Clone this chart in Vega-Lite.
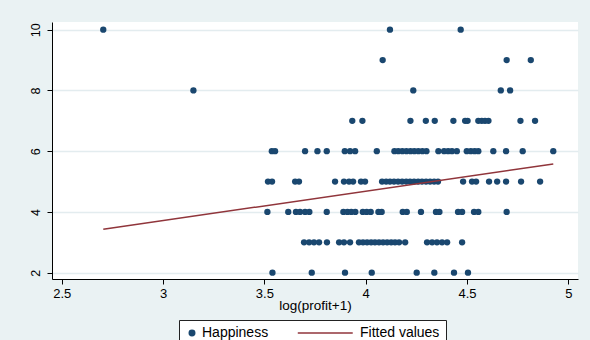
{
  "$schema": "https://vega.github.io/schema/vega-lite/v6.json",
  "width": 526,
  "height": 257,
  "autosize": {"type": "none"},
  "padding": {"left": 52, "top": 22, "right": 12, "bottom": 61},
  "background": "#eaf2f3",
  "config": {
    "font": "Liberation Sans",
    "view": {"fill": "white", "stroke": null}
  },
  "datasets": {
    "points": [
      {"lp": 3.540, "hap": 2, "series": "Happiness"}, {"lp": 3.734, "hap": 2, "series": "Happiness"}, {"lp": 3.898, "hap": 2, "series": "Happiness"}, {"lp": 4.030, "hap": 2, "series": "Happiness"},
      {"lp": 4.252, "hap": 2, "series": "Happiness"}, {"lp": 4.339, "hap": 2, "series": "Happiness"}, {"lp": 4.436, "hap": 2, "series": "Happiness"}, {"lp": 4.505, "hap": 2, "series": "Happiness"},
      {"lp": 3.696, "hap": 3, "series": "Happiness"}, {"lp": 3.721, "hap": 3, "series": "Happiness"}, {"lp": 3.745, "hap": 3, "series": "Happiness"}, {"lp": 3.770, "hap": 3, "series": "Happiness"},
      {"lp": 3.809, "hap": 3, "series": "Happiness"}, {"lp": 3.869, "hap": 3, "series": "Happiness"}, {"lp": 3.893, "hap": 3, "series": "Happiness"}, {"lp": 3.923, "hap": 3, "series": "Happiness"},
      {"lp": 3.967, "hap": 3, "series": "Happiness"}, {"lp": 3.987, "hap": 3, "series": "Happiness"}, {"lp": 4.007, "hap": 3, "series": "Happiness"}, {"lp": 4.027, "hap": 3, "series": "Happiness"},
      {"lp": 4.046, "hap": 3, "series": "Happiness"}, {"lp": 4.066, "hap": 3, "series": "Happiness"}, {"lp": 4.086, "hap": 3, "series": "Happiness"}, {"lp": 4.106, "hap": 3, "series": "Happiness"},
      {"lp": 4.126, "hap": 3, "series": "Happiness"}, {"lp": 4.145, "hap": 3, "series": "Happiness"}, {"lp": 4.165, "hap": 3, "series": "Happiness"}, {"lp": 4.195, "hap": 3, "series": "Happiness"},
      {"lp": 4.303, "hap": 3, "series": "Happiness"}, {"lp": 4.328, "hap": 3, "series": "Happiness"}, {"lp": 4.352, "hap": 3, "series": "Happiness"}, {"lp": 4.377, "hap": 3, "series": "Happiness"},
      {"lp": 4.402, "hap": 3, "series": "Happiness"}, {"lp": 4.476, "hap": 3, "series": "Happiness"},
      {"lp": 3.515, "hap": 4, "series": "Happiness"}, {"lp": 3.618, "hap": 4, "series": "Happiness"}, {"lp": 3.656, "hap": 4, "series": "Happiness"}, {"lp": 3.676, "hap": 4, "series": "Happiness"},
      {"lp": 3.701, "hap": 4, "series": "Happiness"}, {"lp": 3.722, "hap": 4, "series": "Happiness"}, {"lp": 3.808, "hap": 4, "series": "Happiness"}, {"lp": 3.890, "hap": 4, "series": "Happiness"},
      {"lp": 3.910, "hap": 4, "series": "Happiness"}, {"lp": 3.929, "hap": 4, "series": "Happiness"}, {"lp": 3.949, "hap": 4, "series": "Happiness"}, {"lp": 3.986, "hap": 4, "series": "Happiness"},
      {"lp": 4.005, "hap": 4, "series": "Happiness"}, {"lp": 4.025, "hap": 4, "series": "Happiness"}, {"lp": 4.063, "hap": 4, "series": "Happiness"}, {"lp": 4.079, "hap": 4, "series": "Happiness"},
      {"lp": 4.183, "hap": 4, "series": "Happiness"}, {"lp": 4.203, "hap": 4, "series": "Happiness"}, {"lp": 4.273, "hap": 4, "series": "Happiness"}, {"lp": 4.347, "hap": 4, "series": "Happiness"},
      {"lp": 4.364, "hap": 4, "series": "Happiness"}, {"lp": 4.456, "hap": 4, "series": "Happiness"}, {"lp": 4.476, "hap": 4, "series": "Happiness"}, {"lp": 4.535, "hap": 4, "series": "Happiness"},
      {"lp": 4.556, "hap": 4, "series": "Happiness"}, {"lp": 4.696, "hap": 4, "series": "Happiness"},
      {"lp": 3.518, "hap": 5, "series": "Happiness"}, {"lp": 3.538, "hap": 5, "series": "Happiness"}, {"lp": 3.652, "hap": 5, "series": "Happiness"}, {"lp": 3.671, "hap": 5, "series": "Happiness"},
      {"lp": 3.849, "hap": 5, "series": "Happiness"}, {"lp": 3.893, "hap": 5, "series": "Happiness"}, {"lp": 3.918, "hap": 5, "series": "Happiness"}, {"lp": 3.938, "hap": 5, "series": "Happiness"},
      {"lp": 3.977, "hap": 5, "series": "Happiness"}, {"lp": 3.997, "hap": 5, "series": "Happiness"}, {"lp": 4.081, "hap": 5, "series": "Happiness"}, {"lp": 4.101, "hap": 5, "series": "Happiness"},
      {"lp": 4.120, "hap": 5, "series": "Happiness"}, {"lp": 4.140, "hap": 5, "series": "Happiness"}, {"lp": 4.160, "hap": 5, "series": "Happiness"}, {"lp": 4.180, "hap": 5, "series": "Happiness"},
      {"lp": 4.200, "hap": 5, "series": "Happiness"}, {"lp": 4.219, "hap": 5, "series": "Happiness"}, {"lp": 4.239, "hap": 5, "series": "Happiness"}, {"lp": 4.259, "hap": 5, "series": "Happiness"},
      {"lp": 4.278, "hap": 5, "series": "Happiness"}, {"lp": 4.298, "hap": 5, "series": "Happiness"}, {"lp": 4.318, "hap": 5, "series": "Happiness"}, {"lp": 4.338, "hap": 5, "series": "Happiness"},
      {"lp": 4.357, "hap": 5, "series": "Happiness"}, {"lp": 4.481, "hap": 5, "series": "Happiness"}, {"lp": 4.525, "hap": 5, "series": "Happiness"}, {"lp": 4.545, "hap": 5, "series": "Happiness"},
      {"lp": 4.609, "hap": 5, "series": "Happiness"}, {"lp": 4.649, "hap": 5, "series": "Happiness"}, {"lp": 4.693, "hap": 5, "series": "Happiness"}, {"lp": 4.767, "hap": 5, "series": "Happiness"},
      {"lp": 4.861, "hap": 5, "series": "Happiness"},
      {"lp": 3.537, "hap": 6, "series": "Happiness"}, {"lp": 3.553, "hap": 6, "series": "Happiness"}, {"lp": 3.701, "hap": 6, "series": "Happiness"}, {"lp": 3.762, "hap": 6, "series": "Happiness"},
      {"lp": 3.808, "hap": 6, "series": "Happiness"}, {"lp": 3.897, "hap": 6, "series": "Happiness"}, {"lp": 3.923, "hap": 6, "series": "Happiness"}, {"lp": 3.948, "hap": 6, "series": "Happiness"},
      {"lp": 4.055, "hap": 6, "series": "Happiness"}, {"lp": 4.142, "hap": 6, "series": "Happiness"}, {"lp": 4.161, "hap": 6, "series": "Happiness"}, {"lp": 4.181, "hap": 6, "series": "Happiness"},
      {"lp": 4.201, "hap": 6, "series": "Happiness"}, {"lp": 4.221, "hap": 6, "series": "Happiness"}, {"lp": 4.240, "hap": 6, "series": "Happiness"}, {"lp": 4.260, "hap": 6, "series": "Happiness"},
      {"lp": 4.280, "hap": 6, "series": "Happiness"}, {"lp": 4.300, "hap": 6, "series": "Happiness"}, {"lp": 4.359, "hap": 6, "series": "Happiness"}, {"lp": 4.387, "hap": 6, "series": "Happiness"},
      {"lp": 4.407, "hap": 6, "series": "Happiness"}, {"lp": 4.426, "hap": 6, "series": "Happiness"}, {"lp": 4.450, "hap": 6, "series": "Happiness"}, {"lp": 4.499, "hap": 6, "series": "Happiness"},
      {"lp": 4.519, "hap": 6, "series": "Happiness"}, {"lp": 4.538, "hap": 6, "series": "Happiness"}, {"lp": 4.556, "hap": 6, "series": "Happiness"}, {"lp": 4.630, "hap": 6, "series": "Happiness"},
      {"lp": 4.693, "hap": 6, "series": "Happiness"}, {"lp": 4.775, "hap": 6, "series": "Happiness"}, {"lp": 4.926, "hap": 6, "series": "Happiness"},
      {"lp": 3.934, "hap": 7, "series": "Happiness"}, {"lp": 3.984, "hap": 7, "series": "Happiness"}, {"lp": 4.221, "hap": 7, "series": "Happiness"}, {"lp": 4.297, "hap": 7, "series": "Happiness"},
      {"lp": 4.341, "hap": 7, "series": "Happiness"}, {"lp": 4.433, "hap": 7, "series": "Happiness"}, {"lp": 4.491, "hap": 7, "series": "Happiness"}, {"lp": 4.503, "hap": 7, "series": "Happiness"},
      {"lp": 4.556, "hap": 7, "series": "Happiness"}, {"lp": 4.573, "hap": 7, "series": "Happiness"}, {"lp": 4.589, "hap": 7, "series": "Happiness"}, {"lp": 4.606, "hap": 7, "series": "Happiness"},
      {"lp": 4.764, "hap": 7, "series": "Happiness"}, {"lp": 4.836, "hap": 7, "series": "Happiness"},
      {"lp": 3.150, "hap": 8, "series": "Happiness"}, {"lp": 4.235, "hap": 8, "series": "Happiness"}, {"lp": 4.667, "hap": 8, "series": "Happiness"}, {"lp": 4.713, "hap": 8, "series": "Happiness"},
      {"lp": 4.084, "hap": 9, "series": "Happiness"}, {"lp": 4.696, "hap": 9, "series": "Happiness"}, {"lp": 4.815, "hap": 9, "series": "Happiness"},
      {"lp": 2.705, "hap": 10, "series": "Happiness"}, {"lp": 4.120, "hap": 10, "series": "Happiness"}, {"lp": 4.469, "hap": 10, "series": "Happiness"}
    ],
    "fit": [
      {"lp": 2.705, "hap": 3.43, "series": "Fitted values"},
      {"lp": 4.926, "hap": 5.58, "series": "Fitted values"}
    ]
  },
  "layer": [
    {
      "data": {"name": "points"},
      "mark": {"type": "point", "filled": true, "opacity": 1, "size": 40},
      "encoding": {
        "x": {
          "field": "lp", "type": "quantitative",
          "scale": {"domain": [2.452, 5.048], "nice": false, "zero": false},
          "axis": {
            "values": [2.5, 3, 3.5, 4, 4.5, 5], "format": "~g", "grid": false,
            "tickSize": 5, "tickColor": "black", "domainColor": "black",
            "labelFontSize": 13, "labelColor": "black", "labelPadding": 3, "labelFlush": false,
            "title": "log(profit+1)", "titleFontSize": 13.5, "titleFontWeight": "normal",
            "titleColor": "black", "titlePadding": -2
          }
        },
        "y": {
          "field": "hap", "type": "quantitative",
          "scale": {"domain": [1.793, 10.253], "nice": false, "zero": false},
          "axis": {
            "values": [2, 4, 6, 8, 10], "grid": true, "gridColor": "#e3ecef", "gridWidth": 1.5,
            "tickSize": 5, "tickColor": "black", "domainColor": "black",
            "labelAngle": 270, "labelAlign": "center", "labelBaseline": "alphabetic",
            "labelPadding": 8, "labelFontSize": 12.5, "labelColor": "black", "labelFlush": false,
            "title": null
          }
        },
        "color": {
          "field": "series", "type": "nominal",
          "scale": {"domain": ["Happiness", "Fitted values"], "range": ["#1a476f", "#90353b"]},
          "legend": {
            "orient": "none", "legendX": 127, "legendY": 298, "direction": "horizontal",
            "title": null, "fillColor": "white", "strokeColor": "#222", "padding": 6,
            "symbolSize": 30, "labelFontSize": 14, "labelColor": "black", "labelOffset": 3, "columnPadding": 25,
            "encode": {
              "symbols": {"update": {"stroke": {"scale": "color", "field": "value"}, "strokeWidth": {"value": 1.5}}}
            }
          }
        },
        "shape": {
          "field": "series", "type": "nominal",
          "scale": {"domain": ["Happiness", "Fitted values"], "range": ["circle", "M-19.07,0H1"]},
          "legend": {
            "orient": "none", "legendX": 127, "legendY": 298, "direction": "horizontal",
            "title": null, "fillColor": "white", "strokeColor": "#222", "padding": 6,
            "symbolSize": 30, "labelFontSize": 14, "labelColor": "black", "labelOffset": 3, "columnPadding": 25,
            "encode": {
              "symbols": {"update": {"stroke": {"scale": "color", "field": "value"}, "strokeWidth": {"value": 1.5}}}
            }
          }
        }
      }
    },
    {
      "data": {"name": "fit"},
      "mark": {"type": "line", "strokeWidth": 1.5},
      "encoding": {
        "x": {"field": "lp", "type": "quantitative"},
        "y": {"field": "hap", "type": "quantitative"},
        "color": {"field": "series", "type": "nominal"}
      }
    }
  ]
}
